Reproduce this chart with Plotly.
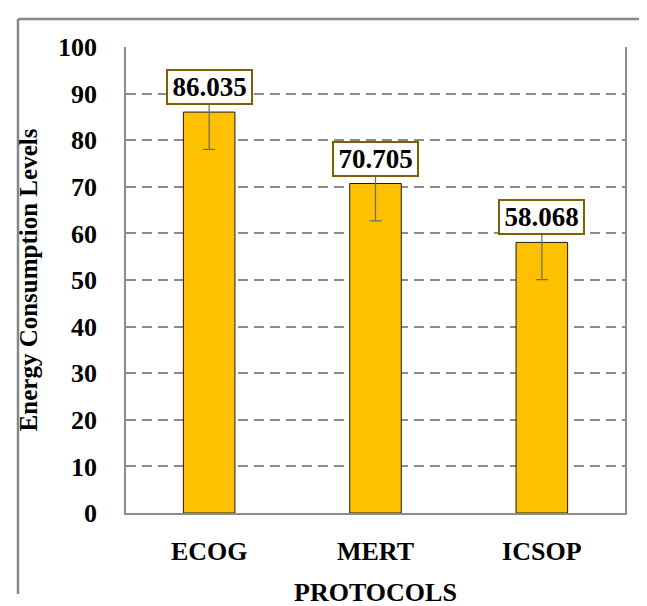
import plotly.graph_objects as go

protocols = ["ECOG", "MERT", "ICSOP"]
energy = [86.035, 70.705, 58.068]
errors = [8, 8, 8]
labels = ["86.035", "70.705", "58.068"]
y_ticks = [0, 10, 20, 30, 40, 50, 60, 70, 80, 90, 100]

FONT = "Liberation Serif, Times New Roman, serif"

W, H = 647, 606
ML, MR, MT, MB = 118, 30, 39, 84
PW, PH = W - ML - MR, H - MT - MB


def px_x(p):
    return (p - ML) / PW


def px_y(p):
    return (H - MB - p) / PH


fig = go.Figure()
fig.add_trace(go.Bar(
    x=protocols, y=energy,
    marker=dict(color="#FFC000", line=dict(color="#1a1a1a", width=1)),
    error_y=dict(type="data", array=errors, visible=True, color="#6b6b6b", thickness=1.2, width=6),
    width=0.31,
))

for p, v, t in zip(protocols, energy, labels):
    fig.add_annotation(
        x=p, y=v, text="<b>" + t + "</b>", showarrow=False,
        yanchor="bottom", yshift=7,
        font=dict(family=FONT, size=27, color="black"),
        bgcolor="white", bordercolor="#7F6000", borderwidth=2, borderpad=2,
        width=79, height=28,
    )

# outer frame: left and top edges only visible
fig.add_shape(type="line", xref="paper", yref="paper",
              x0=px_x(10), x1=px_x(10), y0=px_y(606), y1=px_y(10),
              line=dict(color="#878787", width=2.5), layer="above")
fig.add_shape(type="line", xref="paper", yref="paper",
              x0=px_x(10), x1=px_x(647), y0=px_y(10), y1=px_y(10),
              line=dict(color="#878787", width=2.5), layer="above")

fig.update_layout(
    width=W, height=H,
    margin=dict(l=ML, r=MR, t=MT, b=MB),
    paper_bgcolor="white", plot_bgcolor="white",
    showlegend=False,
    bargap=0.69,
    xaxis=dict(
        showline=True, linecolor="#8c8c8c", linewidth=1.5,
        showgrid=False, ticks="", ticklabelstandoff=14,
        tickfont=dict(family=FONT, size=26, color="black"),
        tickvals=protocols, ticktext=["<b>" + p + "</b>" for p in protocols],
        title=dict(text="<b>PROTOCOLS</b>", font=dict(family=FONT, size=26, color="black"), standoff=18),
    ),
    yaxis=dict(
        range=[0, 100], tickvals=y_ticks, ticktext=["<b>%d</b>" % v for v in y_ticks],
        showline=True, linecolor="#8c8c8c", linewidth=1.5, mirror=True,
        showgrid=True, gridcolor="#8c8c8c", gridwidth=1.5, griddash="10px,6px",
        zeroline=False, ticks="", ticklabelstandoff=22,
        tickfont=dict(family=FONT, size=26, color="black"),
        title=dict(text="<b>Energy Consumption Levels</b>", font=dict(family=FONT, size=25, color="black"), standoff=13),
    ),
)

fig.write_html("out.html")
